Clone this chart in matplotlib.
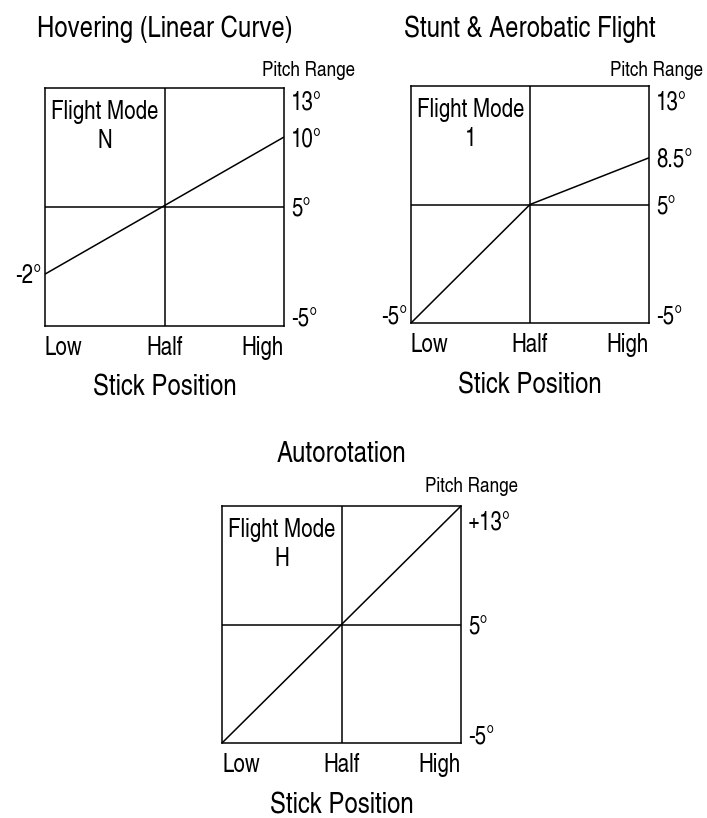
import numpy as np
import matplotlib.pyplot as plt
from matplotlib import font_manager

names = {f.name for f in font_manager.fontManager.ttflist}
narrow = ['TeX Gyre Heros Cn', 'Roboto Condensed', 'Liberation Sans Narrow']
picked = [n for n in narrow if n in names][:1]
plt.rcParams['font.family'] = picked + ['DejaVu Sans']

W, H = 707, 818

# stick position: Low / Half / High
stick_ticks = [0.0, 0.5, 1.0]
stick_labels = ['Low', 'Half', 'High']

titles = ['Hovering (Linear Curve)', 'Stunt & Aerobatic Flight', 'Autorotation']
modes = ['N', '1', 'H']

# pitch curves (stick position, pitch in degrees)
hover_stick = [0.0, 1.0]
hover_pitch = [-2, 10]
stunt_stick = [0.0, 0.5, 1.0]
stunt_pitch = [-5, 5, 8.5]
auto_stick = [0.0, 1.0]
auto_pitch = [-5, 13]

# pitch range labels on the right and left of each box
right_pitch = [[13, 10, 5, -5], [13, 8.5, 5, -5], [13, 5, -5]]
right_text = [['13°', '10°', '5°', '-5°'], ['13°', '8.5°', '5°', '-5°'], ['+13°', '5°', '-5°']]
left_pitch = [[-2], [-5], []]
left_text = [['-2°'], ['-5°'], []]

curves = [(hover_stick, hover_pitch), (stunt_stick, stunt_pitch), (auto_stick, auto_pitch)]

# the diagrams are not drawn to a linear pitch scale
knot_deg = [-5, -2, 5, 8.5, 10, 13]
knot_pos = [0.0, 0.218, 0.5, 0.697, 0.794, 1.0]


def fwd(v):
    return np.interp(v, knot_deg, knot_pos)


def inv(v):
    return np.interp(v, knot_pos, knot_deg)


# box in pixels (left, top, right, bottom), title baseline, pitch range label (right x, baseline)
layout = [
    dict(box=(45, 88, 284, 326), title_y=37, pr=(355, 76), top_dy=22),
    dict(box=(411, 86, 649, 323), title_y=37, pr=(703, 76), top_dy=23),
    dict(box=(222, 506, 461, 743), title_y=462, pr=(518, 492), top_dy=24),
]

fig = plt.figure(figsize=(W / 100, H / 100), dpi=100)
PT = 0.72  # points per pixel at 100 dpi
CAP = 9    # half the cap height of the 18pt labels, in pixels


def fx(x):
    return x / W


def fy(y):
    return 1 - y / H


lw = 1.1
for i, lay in enumerate(layout):
    l, t, r, b = lay['box']
    ax = fig.add_axes([fx(l), fy(b), (r - l) / W, (b - t) / H])
    ax.set_yscale('function', functions=(fwd, inv))
    ax.set_xlim(0, 1)
    ax.set_ylim(-5, 13)
    ax.set_xticks([])
    ax.set_yticks([])
    ax.minorticks_off()
    for s in ax.spines.values():
        s.set_linewidth(lw)

    ax.axvline(stick_ticks[1], color='black', lw=lw)
    ax.axhline(5, color='black', lw=lw)
    xs, ys = curves[i]
    ax.plot(xs, ys, color='black', lw=lw, solid_capstyle='butt', clip_on=False)

    # stick position labels
    for x, lab, ha in zip(stick_ticks, stick_labels, ['left', 'center', 'right']):
        ax.annotate(lab, (x, 0), xycoords=('data', 'axes fraction'),
                    xytext=(0, -29 * PT), textcoords='offset points',
                    ha=ha, va='baseline', fontsize=18)
    ax.annotate('Stick Position', (0.5, 0), xycoords='axes fraction',
                xytext=(0, -70 * PT), textcoords='offset points',
                ha='center', va='baseline', fontsize=21)

    # pitch labels
    for p, lab in zip(right_pitch[i], right_text[i]):
        if p == 13:
            dy = -lay['top_dy']
        elif p == -5:
            dy = 0
        else:
            dy = -CAP
        ax.annotate(lab, (1, p), xycoords=('axes fraction', 'data'),
                    xytext=(7 * PT, dy * PT), textcoords='offset points',
                    ha='left', va='baseline', fontsize=18)
    for p, lab in zip(left_pitch[i], left_text[i]):
        dy = 0 if p == -5 else -CAP
        ax.annotate(lab, (0, p), xycoords=('axes fraction', 'data'),
                    xytext=(-4 * PT, dy * PT), textcoords='offset points',
                    ha='right', va='baseline', fontsize=18)

    # baseline of the mode letter, the line above it sits one line higher
    ax.annotate('Flight Mode\n' + modes[i], (0.25, 1), xycoords='axes fraction',
                xytext=(0, -60 * PT), textcoords='offset points',
                ha='center', va='baseline', fontsize=18, linespacing=1.25,
                multialignment='center')

    cx = (l + r) / 2
    fig.text(fx(cx), fy(lay['title_y']), titles[i], ha='center', va='baseline', fontsize=21)
    fig.text(fx(lay['pr'][0]), fy(lay['pr'][1]), 'Pitch Range', ha='right', va='baseline', fontsize=15)

fig.savefig('out.png', dpi=100, facecolor='white')
